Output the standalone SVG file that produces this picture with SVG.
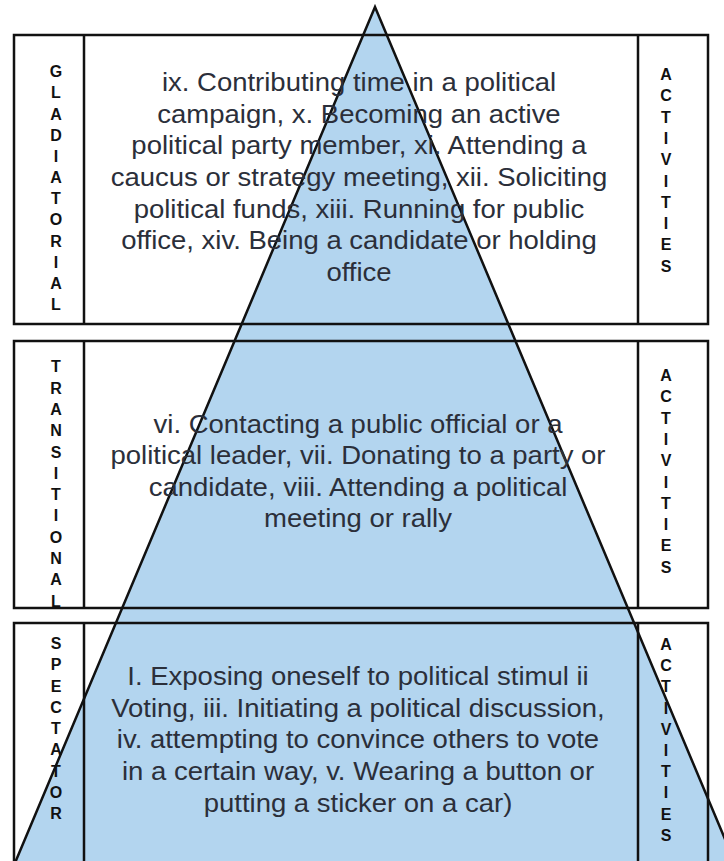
<svg xmlns="http://www.w3.org/2000/svg" width="724" height="861" viewBox="0 0 724 861">
<style>
.box{fill:none;stroke:#111;stroke-width:2.5}
.main{font-family:"Liberation Sans",Arial,sans-serif;font-size:25px;fill:#2b2f3a;text-anchor:middle}
.col{font-family:"Liberation Sans",Arial,sans-serif;font-size:16px;font-weight:bold;fill:#111;text-anchor:middle}
</style>
<rect width="724" height="861" fill="#fff"/>
<g id="pyramid">
<polygon points="375,7 12,870 738,870" fill="#b3d5ef" stroke="#111" stroke-width="2.5" stroke-linejoin="miter"/>
</g>
<g id="connectors"></g>
<g id="gladiatorial">
<rect class="box" x="14" y="35" width="694" height="289"/>
<line class="box" x1="84" y1="35" x2="84" y2="324"/>
<line class="box" x1="638" y1="35" x2="638" y2="324"/>
<text class="col" y="77.3"><tspan x="56">G</tspan><tspan x="56" dy="21.15">L</tspan><tspan x="56" dy="21.15">A</tspan><tspan x="56" dy="21.15">D</tspan><tspan x="56" dy="21.15">I</tspan><tspan x="56" dy="21.15">A</tspan><tspan x="56" dy="21.15">T</tspan><tspan x="56" dy="21.15">O</tspan><tspan x="56" dy="21.15">R</tspan><tspan x="56" dy="21.15">I</tspan><tspan x="56" dy="21.15">A</tspan><tspan x="56" dy="21.15">L</tspan></text>
<text class="col" y="80"><tspan x="666">A</tspan><tspan x="666" dy="21.3">C</tspan><tspan x="666" dy="21.3">T</tspan><tspan x="666" dy="21.3">I</tspan><tspan x="666" dy="21.3">V</tspan><tspan x="666" dy="21.3">I</tspan><tspan x="666" dy="21.3">T</tspan><tspan x="666" dy="21.3">I</tspan><tspan x="666" dy="21.3">E</tspan><tspan x="666" dy="21.3">S</tspan></text>
<g transform="translate(359 0) scale(1.1 1)">
<text class="main" x="0" y="91">ix. Contributing time in a political</text>
<text class="main" x="0" y="122.7">campaign, x. Becoming an active</text>
<text class="main" x="0" y="154.4">political party member, xi. Attending a</text>
<text class="main" x="0" y="186.1">caucus or strategy meeting, xii. Soliciting</text>
<text class="main" x="0" y="217.8">political funds, xiii. Running for public</text>
<text class="main" x="0" y="249.5">office, xiv. Being a candidate or holding</text>
<text class="main" x="0" y="281.2">office</text>
</g>
</g>
<g id="transitional">
<rect class="box" x="14" y="341" width="694" height="267"/>
<line class="box" x1="84" y1="341" x2="84" y2="608"/>
<line class="box" x1="638" y1="341" x2="638" y2="608"/>
<text class="col" y="372.3"><tspan x="56">T</tspan><tspan x="56" dy="21.3">R</tspan><tspan x="56" dy="21.3">A</tspan><tspan x="56" dy="21.3">N</tspan><tspan x="56" dy="21.3">S</tspan><tspan x="56" dy="21.3">I</tspan><tspan x="56" dy="21.3">T</tspan><tspan x="56" dy="21.3">I</tspan><tspan x="56" dy="21.3">O</tspan><tspan x="56" dy="21.3">N</tspan><tspan x="56" dy="21.3">A</tspan><tspan x="56" dy="21.3">L</tspan></text>
<text class="col" y="381"><tspan x="666">A</tspan><tspan x="666" dy="21.3">C</tspan><tspan x="666" dy="21.3">T</tspan><tspan x="666" dy="21.3">I</tspan><tspan x="666" dy="21.3">V</tspan><tspan x="666" dy="21.3">I</tspan><tspan x="666" dy="21.3">T</tspan><tspan x="666" dy="21.3">I</tspan><tspan x="666" dy="21.3">E</tspan><tspan x="666" dy="21.3">S</tspan></text>
<g transform="translate(358 0) scale(1.1 1)">
<text class="main" x="0" y="433">vi. Contacting a public official or a</text>
<text class="main" x="0" y="464.3">political leader, vii. Donating to a party or</text>
<text class="main" x="0" y="495.6">candidate, viii. Attending a political</text>
<text class="main" x="0" y="526.9">meeting or rally</text>
</g>
</g>
<g id="spectator">
<rect class="box" x="14" y="623" width="694" height="260"/>
<line class="box" x1="84" y1="623" x2="84" y2="883"/>
<line class="box" x1="638" y1="623" x2="638" y2="883"/>
<text class="col" y="649"><tspan x="56">S</tspan><tspan x="56" dy="21.25">P</tspan><tspan x="56" dy="21.25">E</tspan><tspan x="56" dy="21.25">C</tspan><tspan x="56" dy="21.25">T</tspan><tspan x="56" dy="21.25">A</tspan><tspan x="56" dy="21.25">T</tspan><tspan x="56" dy="21.25">O</tspan><tspan x="56" dy="21.25">R</tspan></text>
<text class="col" y="650"><tspan x="666">A</tspan><tspan x="666" dy="21.2">C</tspan><tspan x="666" dy="21.2">T</tspan><tspan x="666" dy="21.2">I</tspan><tspan x="666" dy="21.2">V</tspan><tspan x="666" dy="21.2">I</tspan><tspan x="666" dy="21.2">T</tspan><tspan x="666" dy="21.2">I</tspan><tspan x="666" dy="21.2">E</tspan><tspan x="666" dy="21.2">S</tspan></text>
<g transform="translate(358 0) scale(1.1 1)">
<text class="main" x="0" y="685">I. Exposing oneself to political stimul ii</text>
<text class="main" x="0" y="716.7">Voting, iii. Initiating a political discussion,</text>
<text class="main" x="0" y="748.4">iv. attempting to convince others to vote</text>
<text class="main" x="0" y="780.1">in a certain way, v. Wearing a button or</text>
<text class="main" x="0" y="811.8">putting a sticker on a car)</text>
</g>
</g>
</svg>
